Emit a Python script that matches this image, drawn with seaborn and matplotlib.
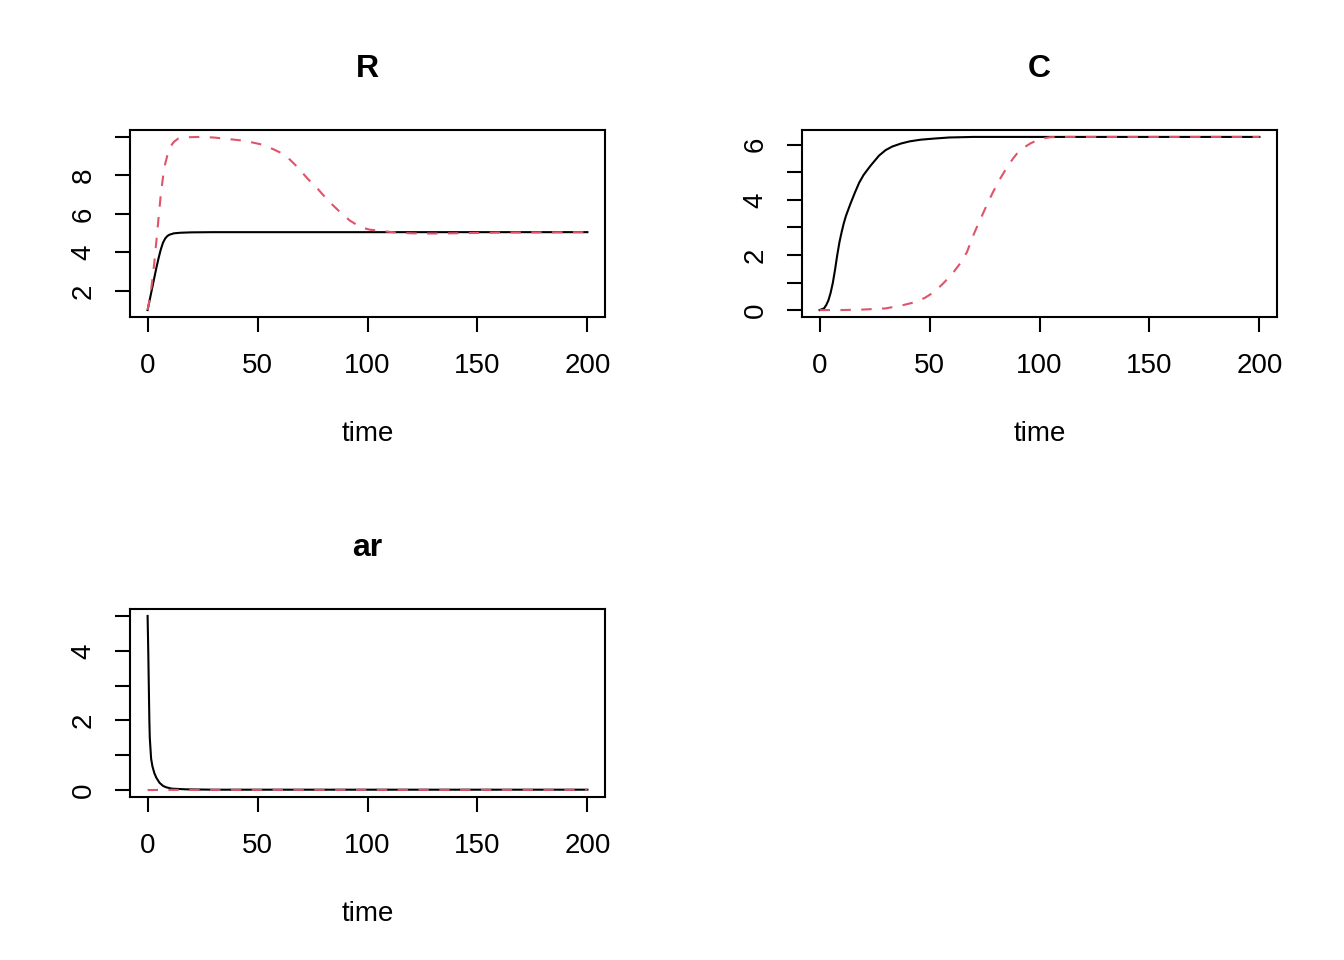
import matplotlib
matplotlib.use("Agg")
import matplotlib.pyplot as plt
import seaborn as sns

# deSolve-style output: two scenarios (black solid, red dashed) for R, C, ar
r1_time = [0, 1, 2, 3, 4, 5, 6, 7, 8, 9, 10, 12, 15, 20, 30, 50, 100, 150, 200]
r1_vals = [1.0, 1.55, 2.1, 2.65, 3.2, 3.7, 4.15, 4.5, 4.72, 4.85, 4.92, 4.99,
           5.02, 5.04, 5.05, 5.05, 5.05, 5.05, 5.05]
r2_time = [0, 1, 2, 3, 4, 5, 6, 7, 8, 9, 10, 11, 12, 14, 17, 24, 30, 36, 44,
           51, 57, 61, 64, 68, 73, 77, 82, 87, 92, 97, 101, 108, 114, 120,
           130, 145, 160, 200]
r2_vals = [1.0, 1.6, 2.4, 3.4, 4.6, 5.8, 7.0, 7.9, 8.6, 9.05, 9.35, 9.6, 9.75,
           9.92, 9.98, 10.0, 9.97, 9.9, 9.8, 9.63, 9.37, 9.15, 8.9, 8.45, 7.8,
           7.35, 6.7, 6.15, 5.65, 5.3, 5.18, 5.09, 5.02, 4.99, 4.98, 5.0, 5.03,
           5.05]

c1_time = [0, 2, 3, 4, 5, 6, 7, 8, 9, 10, 11, 12, 14, 16, 18, 20, 23, 27, 30,
           33, 37, 41, 46, 52, 59, 70, 100, 200]
c1_vals = [0.0, 0.06, 0.18, 0.35, 0.62, 0.98, 1.45, 1.98, 2.45, 2.82, 3.15,
           3.42, 3.85, 4.25, 4.62, 4.9, 5.22, 5.6, 5.8, 5.93, 6.04, 6.12, 6.18,
           6.22, 6.26, 6.28, 6.28, 6.28]
c2_time = [0, 10, 20, 30, 38, 44, 48, 52, 56, 60, 64, 67, 70, 72, 74, 77, 79,
           82, 85, 88, 90, 93, 96, 99, 102, 105, 110, 200]
c2_vals = [0.0, 0.0, 0.02, 0.06, 0.18, 0.3, 0.45, 0.65, 0.95, 1.28, 1.7, 2.1,
           2.73, 3.1, 3.45, 3.98, 4.3, 4.75, 5.15, 5.5, 5.7, 5.9, 6.05, 6.16,
           6.23, 6.27, 6.28, 6.28]

ar1_time = [0, 0.3, 0.5, 0.8, 1.0, 1.6, 2.2, 3.1, 4, 5.4, 7, 8.4, 11, 17.5, 30, 200]
ar1_vals = [5.0, 4.0, 3.2, 2.0, 1.5, 0.9, 0.68, 0.48, 0.35, 0.21, 0.12, 0.08,
            0.04, 0.02, 0.01, 0.01]
ar2_time = [0, 10, 200]
ar2_vals = [0.0, 0.005, 0.005]

plt.rcParams["font.family"] = ["Liberation Sans", "DejaVu Sans"]

fig = plt.figure(figsize=(13.44, 9.6), dpi=100)

panels = [
    ("R", [130, 130, 605, 317], r1_time, r1_vals, r2_time, r2_vals,
     [2, 4, 6, 8, 10], ["2", "4", "6", "8", ""]),
    ("C", [802, 130, 1277, 317], c1_time, c1_vals, c2_time, c2_vals,
     [0, 1, 2, 3, 4, 5, 6], ["0", "", "2", "", "4", "", "6"]),
    ("ar", [130, 609, 605, 797], ar1_time, ar1_vals, ar2_time, ar2_vals,
     [0, 1, 2, 3, 4, 5], ["0", "", "2", "", "4", ""]),
]

W, H = 1344, 960
for name, box, t1, v1, t2, v2, yt, ytl in panels:
    x0, y0, x1, y1 = box
    ax = fig.add_axes([x0 / W, 1 - y1 / H, (x1 - x0) / W, (y1 - y0) / H])
    sns.lineplot(x=t1, y=v1, ax=ax, color="black", linewidth=1.5)
    sns.lineplot(x=t2, y=v2, ax=ax, color="#DF536B", linewidth=1.5,
                 linestyle=(0, (5, 5)))
    ax.margins(x=0.04, y=0.04)
    ax.set_xticks([0, 50, 100, 150, 200])
    ax.set_yticks(yt)
    ax.set_yticklabels(ytl, rotation=90, va="center")
    ax.tick_params(axis="both", direction="out", length=11, width=1.5,
                   labelsize=20)
    ax.tick_params(axis="x", pad=15)
    ax.tick_params(axis="y", pad=13)
    for sp in ax.spines.values():
        sp.set_linewidth(1.5)
    ax.set_xlabel("time", fontsize=20, labelpad=30)
    ax.set_ylabel("")
    ax.set_title(name, fontsize=23, fontweight="bold", pad=38)

fig.savefig("out.png", dpi=100)
plt.close(fig)
